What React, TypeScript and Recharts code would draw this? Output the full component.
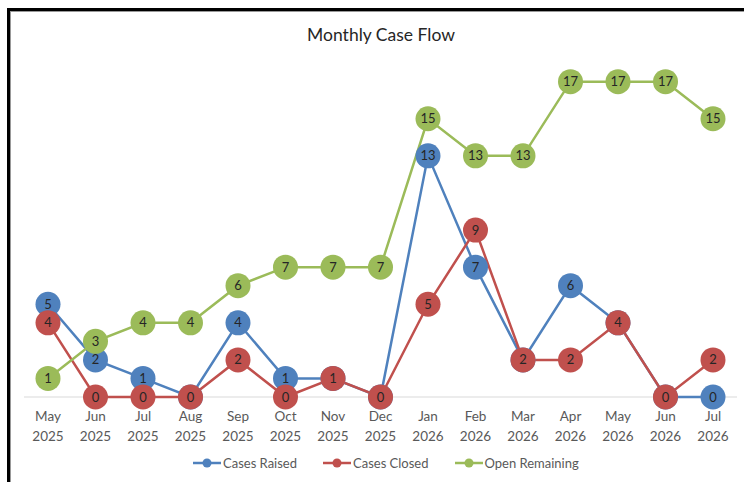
import { LineChart, Line, XAxis, YAxis, CartesianGrid } from 'recharts';

const MONTHS = ['May', 'Jun', 'Jul', 'Aug', 'Sep', 'Oct', 'Nov', 'Dec', 'Jan', 'Feb', 'Mar', 'Apr', 'May', 'Jun', 'Jul'];
const YEARS = ['2025', '2025', '2025', '2025', '2025', '2025', '2025', '2025', '2026', '2026', '2026', '2026', '2026', '2026', '2026'];
const CASES_RAISED = [5, 2, 1, 0, 4, 1, 1, 0, 13, 7, 2, 6, 4, 0, 0];
const CASES_CLOSED = [4, 0, 0, 0, 2, 0, 1, 0, 5, 9, 2, 2, 4, 0, 2];
const OPEN_REMAINING = [1, 3, 4, 4, 6, 7, 7, 7, 15, 13, 13, 17, 17, 17, 15];

const SERIES = [
  { key: 'raised', name: 'Cases Raised', color: '#4f81bd', values: CASES_RAISED },
  { key: 'closed', name: 'Cases Closed', color: '#c0504d', values: CASES_CLOSED },
  { key: 'open', name: 'Open Remaining', color: '#9bbb59', values: OPEN_REMAINING },
];

const data = MONTHS.map((m, i) => ({
  label: `${m}|${YEARS[i]}`,
  raised: CASES_RAISED[i],
  closed: CASES_CLOSED[i],
  open: OPEN_REMAINING[i],
}));

const FONT = 'Lato, "Open Sans", sans-serif';

function makeDot(color: string) {
  return (props: any) => {
    const { cx, cy, value, index } = props;
    if (cx == null || cy == null) return null;
    return (
      <g key={index}>
        <circle cx={cx} cy={cy} r={12.5} fill={color} />
        <text x={cx} y={cy + 4.5} textAnchor="middle" fontSize={13} fill="#262626" fontFamily={FONT}>
          {value}
        </text>
      </g>
    );
  };
}

function MonthTick(props: any) {
  const { x, y, payload } = props;
  const [m, yr] = String(payload.value).split('|');
  return (
    <g>
      <text x={x} y={y + 16} textAnchor="middle" fontSize={13.5} fill="#595959" fontFamily={FONT}>
        {m}
      </text>
      <text x={x} y={y + 36} textAnchor="middle" fontSize={13.5} fill="#595959" fontFamily={FONT}>
        {yr}
      </text>
    </g>
  );
}

export default function App() {
  return (
    <div style={{ position: 'fixed', left: 0, top: 0, width: 744, height: 482, overflow: 'hidden', background: '#fff' }}>
      <div
        style={{
          position: 'absolute',
          left: 7,
          top: 8,
          width: 800,
          height: 600,
          borderTop: '3px solid #000',
          borderLeft: '3px solid #000',
          boxShadow: 'inset 1px 1px 0 #999',
        }}
      />
      <div
        style={{
          position: 'absolute',
          left: 0,
          width: 762,
          top: 24,
          textAlign: 'center',
          fontFamily: FONT,
          fontSize: 17.5,
          color: '#262626',
        }}
      >
        Monthly Case Flow
      </div>
      <div style={{ position: 'absolute', left: 0, top: 0 }}>
        <LineChart width={744} height={482} data={data} margin={{ top: 26, right: 7, left: 24, bottom: 40 }}>
          <CartesianGrid vertical={false} horizontalValues={[0]} stroke="#d9d9d9" strokeWidth={1} />
          <XAxis
            dataKey="label"
            axisLine={false}
            tickLine={false}
            tick={<MonthTick />}
            height={45}
            interval={0}
            padding={{ left: 24, right: 24 }}
          />
          <YAxis hide domain={[0, 20]} />
          {SERIES.map((s) => (
            <Line
              key={s.key}
              dataKey={s.key}
              name={s.name}
              type="linear"
              stroke={s.color}
              strokeWidth={2.5}
              dot={makeDot(s.color)}
              activeDot={false}
              isAnimationActive={false}
            />
          ))}
        </LineChart>
      </div>
      <div
        style={{
          position: 'absolute',
          top: 455,
          left: 193,
          display: 'flex',
          alignItems: 'center',
          fontFamily: FONT,
          fontSize: 13,
          color: '#595959',
        }}
      >
        {SERIES.map((s, i) => (
          <div key={s.key} style={{ display: 'flex', alignItems: 'center', marginRight: i < 2 ? 26 : 0 }}>
            <svg width={28} height={12} style={{ marginRight: 2 }}>
              <line x1={0} y1={6} x2={28} y2={6} stroke={s.color} strokeWidth={2.5} />
              <circle cx={14} cy={6} r={4.5} fill={s.color} />
            </svg>
            <span>{s.name}</span>
          </div>
        ))}
      </div>
    </div>
  );
}
